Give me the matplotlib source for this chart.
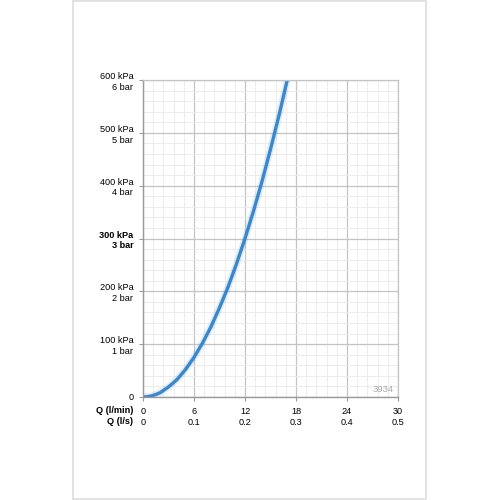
import matplotlib.pyplot as plt
from matplotlib.patches import Rectangle
from matplotlib.ticker import MultipleLocator

# flow (l/min) and pressure loss (kPa)
flow = [0, 0.5, 1, 1.5, 2, 3, 4, 5, 6, 7, 8, 9, 10, 11, 12, 13, 14, 15, 16, 17]
pressure = [0, 0.5, 2, 4.7, 8, 19, 33, 52, 75, 102, 133, 169, 208, 252, 300, 352, 408, 469, 533, 602]

x_ticks = [0, 6, 12, 18, 24, 30]
x_labels = ['0\n0', '6\n0.1', '12\n0.2', '18\n0.3', '24\n0.4', '30\n0.5']
y_ticks = [0, 100, 200, 300, 400, 500, 600]
y_labels = ['0', '100 kPa\n1 bar', '200 kPa\n2 bar', '300 kPa\n3 bar',
            '400 kPa\n4 bar', '500 kPa\n5 bar', '600 kPa\n6 bar']

plt.rcParams['font.family'] = ['Liberation Sans', 'DejaVu Sans']
FS = 6.6

fig = plt.figure(figsize=(5, 5), dpi=100)
fig.patches.append(Rectangle((0.146, 0.002), 0.706, 0.996, transform=fig.transFigure,
                             fill=False, edgecolor='#dddddd', linewidth=1.2))

ax = fig.add_axes([0.286, 0.206, 0.51, 0.634])
ax.set_xlim(0, 30)
ax.set_ylim(0, 600)

ax.xaxis.set_minor_locator(MultipleLocator(1.2))
ax.yaxis.set_minor_locator(MultipleLocator(20))
ax.grid(True, which='major', color='#c4c4c4', linewidth=0.9)
ax.grid(True, which='minor', color='#ececec', linewidth=0.7)
ax.set_axisbelow(True)

for s in ['top', 'right']:
    ax.spines[s].set_color('#c4c4c4')
    ax.spines[s].set_linewidth(0.9)
for s in ['left', 'bottom']:
    ax.spines[s].set_color('#999999')
    ax.spines[s].set_linewidth(1.0)

ax.set_xticks(x_ticks)
ax.set_xticklabels(x_labels, fontsize=FS, linespacing=1.25)
ax.set_yticks(y_ticks)
ax.set_yticklabels(y_labels, fontsize=FS, linespacing=1.25, ha='right')
ax.tick_params(which='major', length=3, color='#999999')
ax.tick_params(axis='x', pad=4.5)
ax.tick_params(axis='y', pad=4)
ax.tick_params(which='minor', length=0)
for lab in ax.get_yticklabels():
    if lab.get_text().startswith('300'):
        lab.set_fontweight('bold')

ax.text(-0.039, -0.029, 'Q (l/min)\nQ (l/s)', transform=ax.transAxes, ha='right', va='top',
        fontsize=FS, fontweight='bold', linespacing=1.25)

ax.plot(flow, pressure, color='#3d8bcd', linewidth=5, alpha=0.15, solid_capstyle='round')
ax.plot(flow, pressure, color='#3a88cb', linewidth=2.4, solid_capstyle='round')

ax.text(0.985, 0.008, '3934', transform=ax.transAxes, ha='right', va='bottom',
        fontsize=6.8, color='#aaaaaa')

fig.savefig('out.png', dpi=100)
